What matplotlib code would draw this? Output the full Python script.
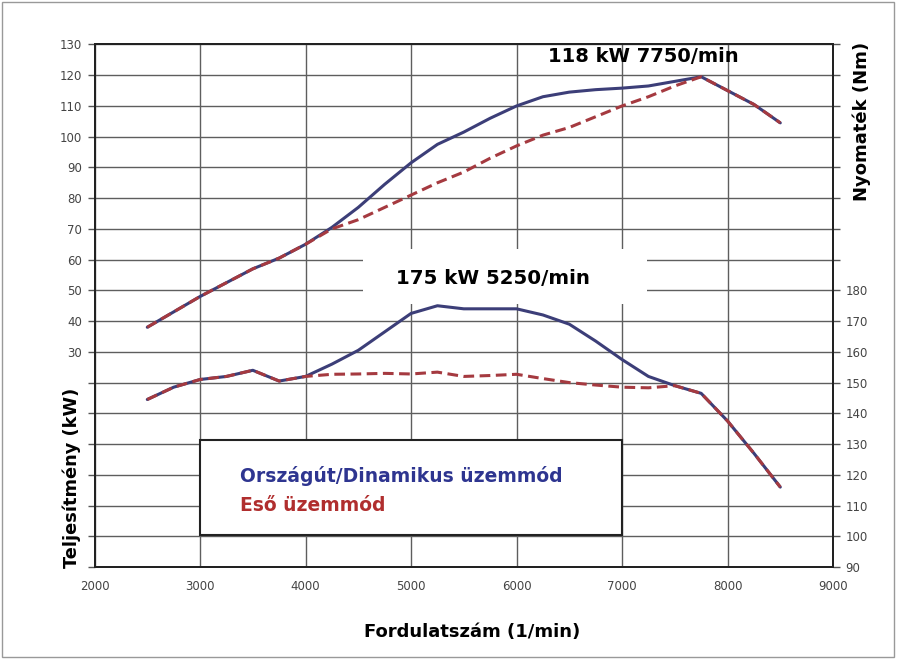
import matplotlib.pyplot as plt
from matplotlib.patches import Rectangle

# === Data ===
rpm = [2500, 2750, 3000, 3250, 3500, 3750, 4000, 4250, 4500, 4750, 5000, 5250,
       5500, 5750, 6000, 6250, 6500, 6750, 7000, 7250, 7500, 7750, 8000, 8250, 8500]

# power (kW), left axis
power_dyn = [38, 43, 48, 52.5, 57, 60.5, 65, 70.5, 77, 84.5, 91.5, 97.5,
             101.5, 106, 110, 113, 114.5, 115.3, 115.8, 116.5, 118, 119.5, 115, 110.5, 104.5]
power_rain = [38, 43, 48, 52.5, 57, 60.5, 65, 70, 73, 77, 81, 85,
              88.5, 93, 97, 100.5, 103, 106.5, 110, 113, 116.5, 119.5, 115, 110.5, 104.5]

# torque (Nm), right axis
torque_dyn = [144.5, 148.5, 151, 152, 154, 150.5, 152, 156, 160.5, 166.5, 172.5, 175,
              174, 174, 174, 172, 169, 163.5, 157.5, 152, 149, 146.5, 137.5, 127, 116]
torque_rain = [144.5, 148.5, 151, 152, 154, 150.5, 152, 152.7, 152.8, 153, 152.8, 153.4,
               152, 152.3, 152.7, 151.3, 150, 149.2, 148.5, 148.3, 149, 146.5, 137.5, 127, 116]

left_ticks = list(range(-40, 131, 10))
right_ticks = list(range(90, 261, 10))
x_ticks = list(range(2000, 9001, 1000))

BLUE = "#3c3e78"
RED = "#a53a40"
TICK_COLOR = "#444444"

# === Figure ===
fig = plt.figure(figsize=(8.97, 6.59), dpi=100)
ax = fig.add_axes([0.1054, 0.1396, 0.8233, 0.7929])
ax.set_xlim(2000, 9000)
ax.set_ylim(-40, 130)
ax2 = ax.twinx()
ax2.set_ylim(90, 260)

ax.set_xticks(x_ticks)
ax.set_xticklabels([str(v) for v in x_ticks], fontsize=8.5, color=TICK_COLOR)
ax.set_yticks(left_ticks)
ax.set_yticklabels([str(v) if v >= 30 else "" for v in left_ticks], fontsize=8.5, color=TICK_COLOR)
ax2.set_yticks(right_ticks)
ax2.set_yticklabels([str(v) if v <= 180 else "" for v in right_ticks], fontsize=8.5, color=TICK_COLOR)

ax.tick_params(axis="x", length=0, pad=9)
ax.tick_params(axis="y", length=5, width=1, color="#555555", pad=4)
ax2.tick_params(axis="y", length=5, width=1, color="#555555", pad=4)

ax.grid(True, color="#5e5e5e", linewidth=1)

for a in (ax, ax2):
    for s in a.spines.values():
        s.set_color("#222222")
        s.set_linewidth(1.4)

# white patches behind the annotations
ax.add_patch(Rectangle((4545, 45.7), 2690, 17.8, facecolor="white", edgecolor="none", zorder=1.8))
ax.add_patch(Rectangle((3000, -29.5), 4000, 30.8, facecolor="white", edgecolor="#222222",
                       linewidth=1.5, zorder=1.9))

# === Curves ===
ax.plot(rpm, power_dyn, color=BLUE, linewidth=2.2, zorder=3, solid_capstyle="round")
ax.plot(rpm, power_rain, color=RED, linewidth=2.2, linestyle=(0, (3.5, 1.8)), zorder=3.1)
ax2.plot(rpm, torque_dyn, color=BLUE, linewidth=2.2, zorder=3, solid_capstyle="round")
ax2.plot(rpm, torque_rain, color=RED, linewidth=2.2, linestyle=(0, (3.5, 1.8)), zorder=3.1)

# === Annotations ===
ax.text(7200, 126, "118 kW 7750/min", ha="center", va="center", fontsize=14, fontweight="bold",
        color="black", zorder=2.2)
ax.text(5777, 53.8, "175 kW 5250/min", ha="center", va="center", fontsize=14.2, fontweight="bold",
        color="black", zorder=2.2)
ax.text(3380, -10.3, "Országút/Dinamikus üzemmód", ha="left", va="center", fontsize=13.5,
        fontweight="bold", color="#2e3590", zorder=2.2)
ax.text(3380, -20, "Eső üzemmód", ha="left", va="center", fontsize=13.5,
        fontweight="bold", color="#b02e2e", zorder=2.2)

# axis titles
fig.text(0.0803, 0.2747, "Teljesítmény (kW)", rotation=90, ha="center", va="center",
         fontsize=12.8, fontweight="bold")
fig.text(0.961, 0.815, "Nyomaték (Nm)", rotation=90, ha="center", va="center",
         fontsize=13, fontweight="bold")
fig.text(0.526, 0.041, "Fordulatszám (1/min)", ha="center", va="center",
         fontsize=13, fontweight="bold")

# thin outer frame
fig.patches.append(Rectangle((0.002, 0.003), 0.995, 0.994, transform=fig.transFigure,
                             fill=False, edgecolor="#999999", linewidth=1))

fig.savefig("out.png", dpi=100)
